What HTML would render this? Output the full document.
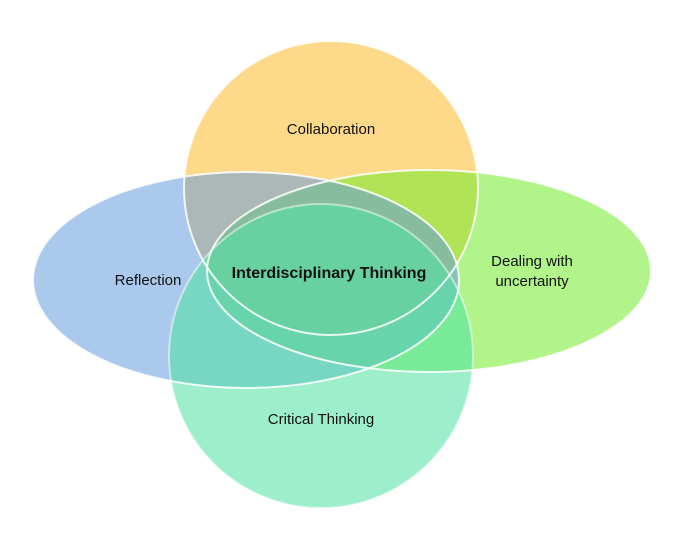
<!DOCTYPE html>
<html><head><style>
html,body{margin:0;padding:0;background:#fff;width:689px;height:545px;overflow:hidden}
svg{position:absolute;left:0;top:0}
text{font-family:"Liberation Sans",sans-serif;font-size:15px;fill:#111}
</style></head><body>
<svg width="689" height="545" viewBox="0 0 689 545">
<circle cx="331" cy="188" r="147" fill="#FFD98A"/>
<ellipse cx="429" cy="271" rx="222" ry="101" fill="#6FEB2A" fill-opacity="0.55"/>
<ellipse cx="246" cy="280" rx="213" ry="108" fill="#669CDC" fill-opacity="0.55"/>
<circle cx="321" cy="356" r="152" fill="#4CE1A2" fill-opacity="0.55"/>
<g fill="none" stroke="#fff" stroke-opacity="0.85" stroke-width="2">
<circle cx="331" cy="188" r="147"/>
<ellipse cx="429" cy="271" rx="222" ry="101"/>
<ellipse cx="246" cy="280" rx="213" ry="108"/>
<circle cx="321" cy="356" r="152" stroke-opacity="0.5"/>
</g>
<text x="331" y="134" text-anchor="middle">Collaboration</text>
<text x="148" y="285" text-anchor="middle">Reflection</text>
<text x="532" y="266" text-anchor="middle">Dealing with</text>
<text x="532" y="286" text-anchor="middle">uncertainty</text>
<text x="321" y="424" text-anchor="middle">Critical Thinking</text>
<text x="329" y="278" text-anchor="middle" style="font-weight:bold;font-size:16px">Interdisciplinary Thinking</text>
</svg>
</body></html>
